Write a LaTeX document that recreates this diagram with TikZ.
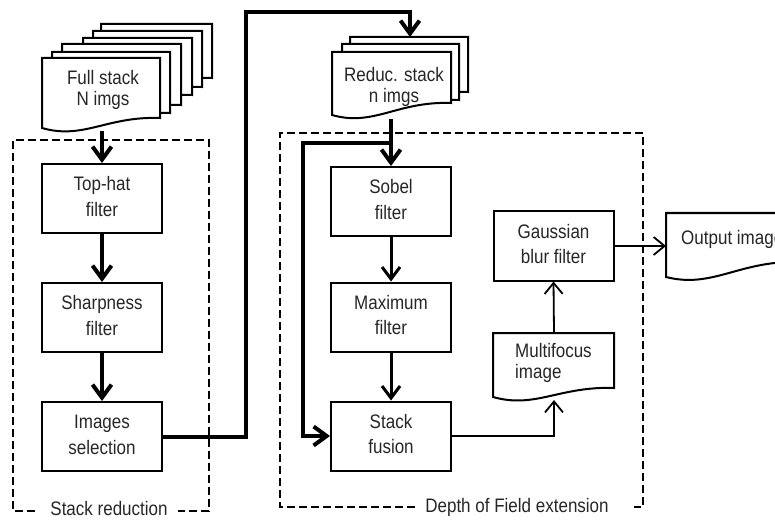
\documentclass[tikz,border=0pt]{standalone}
\usepackage{fontspec}
\setmainfont{Liberation Sans}
\usetikzlibrary{arrows.meta}
\newcommand\docsh[5]{%
  \draw[docline] (#1,#2) -- (#3,#2) -- (#3,#4) .. controls ({#3-0.45*(#3-#1)},{#4-2}) and ({#1+0.35*(#3-#1)},{#5+12}) .. (#1,#5) -- cycle;}
\newcommand\tx[1]{\scalebox{1}[1.15]{\begin{tabular}{@{}c@{}}#1\end{tabular}}}
\newcommand\txl[1]{\scalebox{1}[1.15]{\begin{tabular}{@{}l@{}}#1\end{tabular}}}
\begin{document}
\begin{tikzpicture}[x=1pt,y=-1pt,
  lbl/.style={font={\fontsize{17}{22}\selectfont}, text=black!85, inner sep=0pt},
  dlbl/.style={font={\fontsize{17}{18.5}\selectfont}, text=black!85, inner sep=0pt},
  box/.style={lbl, draw=black, line width=2pt, minimum width=120pt, minimum height=69pt},
  docline/.style={line width=2pt, fill=white},
  tk/.style={line width=4pt, -{Straight Barb[length=13pt,width=19pt]}},
  md/.style={line width=3pt, -{Straight Barb[length=12pt,width=18pt]}},
  tn/.style={line width=1.8pt, -{Straight Barb[length=11pt,width=18pt]}},
  dbox/.style={line width=2.5pt, dash pattern=on 8pt off 4pt}]
\useasboundingbox (0,0) rectangle (775,521);
\clip (0,0) rectangle (775,521);

% dashed group frames
\draw[dbox] (35,511) -- (13,511) -- (13,140) -- (209,140) -- (209,511) -- (178,511);
\node[lbl, anchor=center] (srlab) at (109,510) {\tx{Stack reduction}};
\draw[dbox] (415,507) -- (280,507) -- (280,133) -- (643,133) -- (643,507) -- (634,507);
\node[lbl, anchor=center] (doflab) at (517,507) {\tx{Depth of Field extension}};

% full stack documents
\docsh{101}{24}{212}{78}{88}
\docsh{93}{31}{202}{87}{97}
\docsh{83}{38}{192}{95}{105}
\docsh{62}{44}{181}{105}{115}
\docsh{52}{52}{170}{113}{123}
\docsh{42}{58}{160}{118}{128}
\node[dlbl] (full) at (103,90.5) {\tx{Full stack\\N imgs}};
\coordinate (fullb) at (102,131);

% reduced stack documents
\docsh{350}{37}{468}{92}{102}
\docsh{342}{44}{459}{100}{110}
\docsh{332}{52}{451}{103}{115}
\node[dlbl] (reduc) at (394,87.5) {\tx{Reduc. stack\\n imgs}};
\coordinate (reductop) at (410,37);
\coordinate (reducb) at (391,119);

% multifocus document
\docsh{493}{333}{614}{388}{397}
\node[dlbl, anchor=west] (multi) at (515,364) {\txl{Multifocus\\image}};
\coordinate (multit) at (554,333);
\coordinate (multib) at (554,400);

% output document
\docsh{666}{213}{800}{262}{277}
\node[dlbl, anchor=west] (out) at (681,240) {\tx{Output image}};
\coordinate (outl) at (666,246);

% process boxes
\node[box] (tophat) at (102,198.5) {\tx{Top-hat\\filter}};
\node[box] (sharp) at (102,317.5) {\tx{Sharpness\\filter}};
\node[box] (imgsel) at (102,436.5) {\tx{Images\\selection}};
\node[box] (sobel) at (391,201.5) {\tx{Sobel\\filter}};
\node[box] (maxf) at (391,317) {\tx{Maximum\\filter}};
\node[box] (fusion) at (391,436) {\tx{Stack\\fusion}};
\node[box] (gauss) at (553.5,246) {\tx{Gaussian\\blur filter}};

% connectors
\draw[tk] (fullb) -- (tophat.north);
\draw[tk] (tophat.south) -- (sharp.north);
\draw[tk] (sharp.south) -- (imgsel.north);
\draw[tk] (imgsel.east) -| (246,12) -| (reductop);
\draw[tk] (reducb) -- (sobel.north);
\coordinate (split) at (391,143);
\draw[tk] (split) -- (303,143) |- (fusion.west);
\draw[md] (sobel.south) -- (maxf.north);
\draw[md] (maxf.south) -- (fusion.north);
\draw[tn] (fusion.east) -| (multib);
\draw[tn] (multit) -- (gauss.south);
\draw[tn] (gauss.east) -- (outl);
\end{tikzpicture}
\end{document}
